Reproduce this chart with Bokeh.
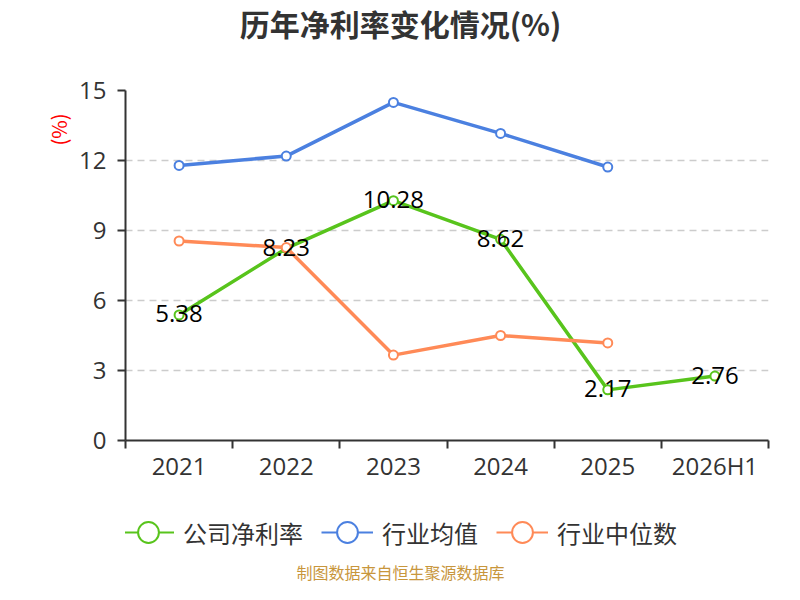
import math
from bokeh.plotting import figure
from bokeh.layouts import column
from bokeh.models import (Range1d, FixedTicker, ColumnDataSource, Legend, LegendItem,
                          Label, Title)
from bokeh.core.properties import value
from bokeh.embed import file_html
from bokeh.resources import INLINE

categories = ["2021", "2022", "2023", "2024", "2025", "2026H1"]
company = [5.38, 8.23, 10.28, 8.62, 2.17, 2.76]
industry_avg = [11.79, 12.19, 14.49, 13.16, 11.72]
industry_median = [8.55, 8.27, 3.66, 4.50, 4.18]
y_ticks = [0, 3, 6, 9, 12, 15]
series_names = ["公司净利率", "行业均值", "行业中位数"]
colors = ["#58c41c", "#4b80e0", "#ff8a57"]
title_text = "历年净利率变化情况(%)"
unit_text = "(%)"
source_text = "制图数据来自恒生聚源数据库"

pos = [i + 0.5 for i in range(len(categories))]
bounds = list(range(len(categories) + 1))

FONT = "Open Sans"
CJK = "Noto Sans CJK SC"
W = 784
BL, BR = 125, 16


def blank(h):
    f = figure(width=W, height=h, output_backend="svg", toolbar_location=None,
               x_range=Range1d(0, 1), y_range=Range1d(0, 1), title=None,
               x_axis_type=None, y_axis_type=None, min_border=0,
               min_border_left=BL, min_border_right=BR)
    f.outline_line_color = None
    f.grid.visible = False
    f.background_fill_color = "white"
    f.border_fill_color = "white"
    return f


# ---- title strip
top = blank(70)
top.add_layout(Label(x=275, y=48, x_units="screen", y_units="screen", text=title_text,
                     text_font=CJK, text_font_size="30px", text_font_style="bold",
                     text_color="#333333", text_align="center", text_baseline="middle"))

# ---- main chart
p = figure(width=W, height=420, output_backend="svg", toolbar_location=None,
           x_range=Range1d(0, len(categories)), y_range=Range1d(0, max(y_ticks)),
           min_border_left=BL, min_border_right=BR, min_border_top=20,
           min_border_bottom=50, title=None)
p.outline_line_color = None
p.background_fill_color = "white"
p.border_fill_color = "white"

xa = p.xaxis[0]
xa.ticker = FixedTicker(ticks=pos, minor_ticks=bounds)
xa.major_label_overrides = {pp: c for pp, c in zip(pos, categories)}
xa.major_tick_line_color = None
xa.major_tick_out = 0
xa.major_tick_in = 0
xa.minor_tick_line_color = "#333333"
xa.minor_tick_line_width = 2
xa.minor_tick_out = 8
xa.minor_tick_in = 0
xa.axis_line_color = "#333333"
xa.axis_line_width = 2
xa.major_label_text_font = FONT
xa.major_label_text_font_size = "24px"
xa.major_label_text_color = "#333333"
xa.major_label_standoff = 0

ya = p.yaxis[0]
ya.ticker = FixedTicker(ticks=y_ticks)
ya.minor_tick_line_color = None
ya.major_tick_line_color = "#333333"
ya.major_tick_line_width = 2
ya.major_tick_out = 8
ya.major_tick_in = 0
ya.axis_line_color = "#333333"
ya.axis_line_width = 2
ya.major_label_text_font = FONT
ya.major_label_text_font_size = "24px"
ya.major_label_text_color = "#333333"
ya.major_label_standoff = 11

p.xgrid.grid_line_color = None
p.ygrid.ticker = FixedTicker(ticks=y_ticks)
p.ygrid.grid_line_color = "#cccccc"
p.ygrid.grid_line_dash = "7 5"
p.ygrid.grid_line_width = 1.5

p.add_layout(Title(text=unit_text, align="right", offset=23, standoff=7, text_color="red",
                   text_font=CJK, text_font_size="20px", text_font_style="normal"), "left")

for vals, col in zip([company, industry_avg, industry_median], colors):
    src = ColumnDataSource(dict(x=pos[:len(vals)], y=vals))
    p.line("x", "y", source=src, line_color=col, line_width=3.5)
    p.scatter("x", "y", source=src, size=9, marker="circle", fill_color="white",
              line_color=col, line_width=2)

lab_src = ColumnDataSource(dict(x=pos, y=company, t=[f"{v:.2f}" for v in company]))
p.text("x", "y", text="t", source=lab_src, text_font=value(FONT), text_font_size="24px",
       text_color="black", text_align="center", text_baseline="middle", y_offset=-1)

# ---- legend + source strip
bot = blank(94)
nan = float("nan")
items = []
for name, col in zip(series_names, colors):
    proxy = ColumnDataSource(dict(x=[nan], y=[nan]))
    ln = bot.line("x", "y", source=proxy, line_color=col, line_width=2)
    sc = bot.scatter("x", "y", source=proxy, marker="circle", fill_color="white",
                     line_color=col, line_width=2)
    items.append(LegendItem(label=name, renderers=[ln, sc]))
legend = Legend(items=items, orientation="horizontal", location=(-3, 24),
                label_text_font=CJK, label_text_font_size="24px",
                label_text_color="#333333", glyph_width=52, glyph_height=56,
                spacing=18, label_standoff=9, padding=0, margin=0,
                border_line_color=None, background_fill_alpha=0)
bot.add_layout(legend, "center")
bot.add_layout(Label(x=275, y=13, x_units="screen", y_units="screen", text=source_text,
                     text_font=CJK, text_font_size="16px", text_color="#c8963c",
                     text_align="center", text_baseline="middle"))

layout = column(top, p, bot, spacing=0)
open("out.html", "w").write(file_html(layout, INLINE))
